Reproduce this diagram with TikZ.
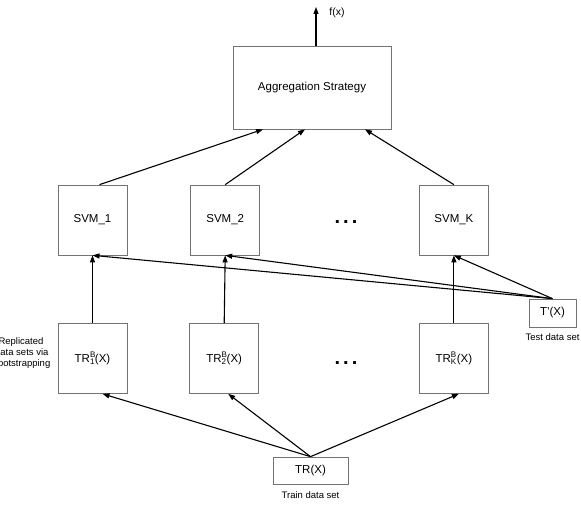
\documentclass[tikz,border=0pt]{standalone}
\usepackage{fontspec}
\setmainfont{Liberation Sans}
\usetikzlibrary{positioning,arrows.meta}
\newcommand{\trb}[1]{TR\rlap{\textsuperscript{B}}\textsubscript{#1}(X)}

\begin{document}
\begin{tikzpicture}[x=1pt,y=-1pt,>={Triangle[length=7pt,width=5pt]},
  box/.style={draw=black!55,line width=0.7pt,minimum width=69pt,minimum height=70pt,inner sep=2pt,font=\fontsize{11.5}{13}\selectfont},
  lbl/.style={font=\fontsize{9.5}{11}\selectfont},
  dots/.style={font=\fontsize{20}{20}\selectfont\bfseries},
  conn/.style={->,line width=1.1pt}]
\useasboundingbox (0,0) rectangle (581,505);
\node[box,minimum width=158pt,minimum height=83pt] (agg) at (312,87.5) {Aggregation Strategy};
\node[box] (svm1) at (92.5,220) {SVM\_1};
\node[box] (svm2) [right=63pt of svm1] {SVM\_2};
\node[box] (svmk) [right=159pt of svm2] {SVM\_K};
\node[box] (tr1) at (92.5,358.5) {\trb{1}};
\node[box] (tr2) [right=62pt of tr1] {\trb{2}};
\node[box] (trk) [right=160pt of tr2] {\trb{K}};
\node[box,minimum width=47pt,minimum height=28pt] (tp) at (552.5,313) {T'(X)};
\node[lbl] (tplbl) [below=3pt of tp] {Test data set};
\node[box,minimum width=75pt,minimum height=27pt] (tr) at (310.5,470.5) {TR(X)};
\node[lbl] (trlbl) [below=4pt of tr] {Train data set};
\node[lbl,align=center] (replbl) at (21,353) {Replicated\\Data sets via\\Bootstrapping};
\node[dots] (sdots) at (346,222) {.\hspace{3pt}.\hspace{3pt}.};
\node[dots] (tdots) at (346,363) {.\hspace{3pt}.\hspace{3pt}.};
\coordinate (out) at (316,7);
\node[font=\fontsize{10.5}{12}\selectfont] (fx) at (337,13) {f(x)};
\draw[conn] ([xshift=4pt]agg.north) -- (out);
\draw[conn] ([xshift=7pt]svm1.north) -- ([xshift=-49pt]agg.south);
\draw[conn] (svm2.north) -- ([xshift=-7pt]agg.south);
\draw[conn] (svmk.north) -- ([xshift=53pt]agg.south);
\foreach \i in {1,2,k} \draw[conn] (tr\i.north) -- (svm\i.south);
\foreach \s in {svm1,svm2,svmk} \draw[conn] (tp.north) -- (\s.south);
\foreach \i/\d in {1/10,2/4,k/5} \draw[conn] (tr.north) -- ([xshift=\d pt]tr\i.south);
\end{tikzpicture}
\end{document}
